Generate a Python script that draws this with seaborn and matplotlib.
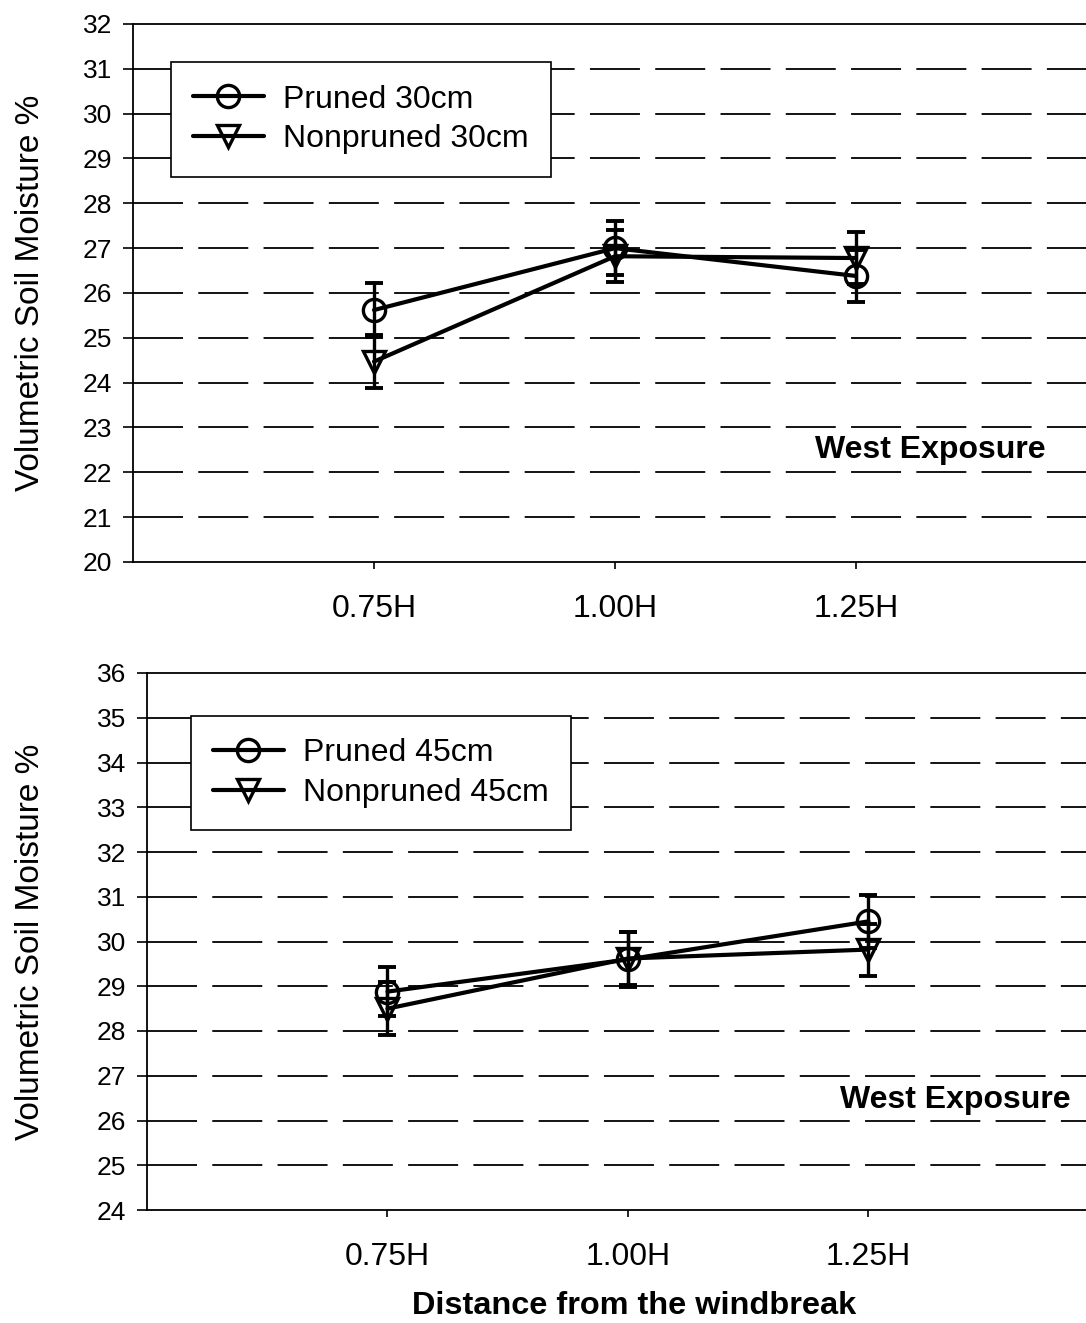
import numpy as np
import pandas as pd
import seaborn as sns
import matplotlib
matplotlib.use("Agg")
import matplotlib.pyplot as plt

# ---------------- data ----------------
categories = ["0.75H", "1.00H", "1.25H"]

top_pruned = [25.62, 27.00, 26.38]
top_pruned_err = [0.60, 0.60, 0.58]
top_nonpruned = [24.47, 26.82, 26.78]
top_nonpruned_err = [0.60, 0.58, 0.58]

bot_pruned = [28.88, 29.60, 30.45]
bot_pruned_err = [0.55, 0.62, 0.60]
bot_nonpruned = [28.50, 29.62, 29.82]
bot_nonpruned_err = [0.60, 0.60, 0.58]

top_labels = ["Pruned 30cm", "Nonpruned 30cm"]
bot_labels = ["Pruned 45cm", "Nonpruned 45cm"]
top_yticks = list(range(20, 33))
bot_yticks = list(range(24, 37))
panel_text = "West Exposure"
xlabel_text = "Distance from the windbreak"
ylabel_text = "Volumetric Soil Moisture %"

# ---------------- style ----------------
sns.set_theme(style="white")
plt.rcParams["font.family"] = ["Liberation Sans", "DejaVu Sans"]
plt.rcParams["lines.scale_dashes"] = False
plt.rcParams["text.color"] = "black"
plt.rcParams["axes.labelcolor"] = "black"
plt.rcParams["xtick.color"] = "black"
plt.rcParams["ytick.color"] = "black"

W, H = 1086, 1323
fig = plt.figure(figsize=(W / 100, H / 100), dpi=100)


def panel(rect, pruned, perr, nonp, nerr, labels, yticks, leg_anchor, txt_pos, ylab_x):
    ax = fig.add_axes(rect)
    pos = np.arange(len(categories))
    df = pd.DataFrame({
        "pos": np.concatenate([pos, pos]),
        "val": pruned + nonp,
        "series": [labels[0]] * 3 + [labels[1]] * 3,
    })
    # error bars
    for vals, errs in ((pruned, perr), (nonp, nerr)):
        ax.errorbar(pos, vals, yerr=errs, fmt="none", ecolor="black",
                    elinewidth=2.4, capsize=6.5, capthick=2.8, zorder=3)
    sns.lineplot(data=df, x="pos", y="val", style="series", hue="series",
                 palette=["black", "black"], markers={labels[0]: "o", labels[1]: "v"},
                 dashes=False, linewidth=3.0, markersize=16, mfc="none",
                 mec="black", mew=2.4, ax=ax, zorder=4, legend=True)
    ax.set_xlim(-1, 3)
    ax.set_ylim(yticks[0], yticks[-1])
    ax.set_yticks(yticks)
    ax.set_xticks(pos)
    ax.set_xticklabels(categories)
    ax.tick_params(axis="y", which="major", direction="out", length=7, width=1.2,
                   labelsize=19, pad=8, left=True, color="black", labelcolor="black")
    ax.tick_params(axis="x", which="major", direction="out", length=5, width=1.2,
                   labelsize=23, pad=18, bottom=True, color="black", labelcolor="black")
    for s in ["left", "bottom", "top"]:
        ax.spines[s].set_visible(True)
        ax.spines[s].set_color("black")
        ax.spines[s].set_linewidth(1.3)
    ax.spines["right"].set_visible(False)
    for yv in yticks[1:-1]:
        ax.axhline(yv, color="black", linewidth=1.3, linestyle=(0, (36, 11)), zorder=1)
    ax.set_xlabel("")
    ax.set_ylabel(ylabel_text, fontsize=24, color="black")
    ax.yaxis.set_label_coords(ylab_x, 0.5)
    handles, lbls = ax.get_legend_handles_labels()
    leg = ax.legend(handles, lbls, loc="upper left", bbox_to_anchor=leg_anchor,
                    borderaxespad=0, frameon=True, fancybox=False, fontsize=23,
                    handlelength=2.2, handletextpad=0.6, labelspacing=0.3,
                    borderpad=0.7, framealpha=1)
    for t in leg.get_texts():
        t.set_color("black")
    leg.get_frame().set_edgecolor("black")
    leg.get_frame().set_linewidth(1.2)
    leg.set_zorder(10)
    ax.text(txt_pos[0], txt_pos[1], panel_text, transform=ax.transAxes,
            fontsize=23, fontweight="bold", ha="center", va="center", color="black")
    return ax


ax1 = panel([133 / W, 1 - 562 / H, 964 / W, 538 / H],
            top_pruned, top_pruned_err, top_nonpruned, top_nonpruned_err,
            top_labels, top_yticks, (0.0394, 0.929), (0.827, 0.208), -0.090)
ax2 = panel([147 / W, 1 - 1210 / H, 962 / W, 537 / H],
            bot_pruned, bot_pruned_err, bot_nonpruned, bot_nonpruned_err,
            bot_labels, bot_yticks, (0.0457, 0.92), (0.840, 0.205), -0.105)

fig.text(634 / W, 1 - 1306 / H, xlabel_text, fontsize=23.4, fontweight="bold",
         ha="center", va="center", color="black")

fig.savefig("out.png", dpi=100, facecolor="white")
